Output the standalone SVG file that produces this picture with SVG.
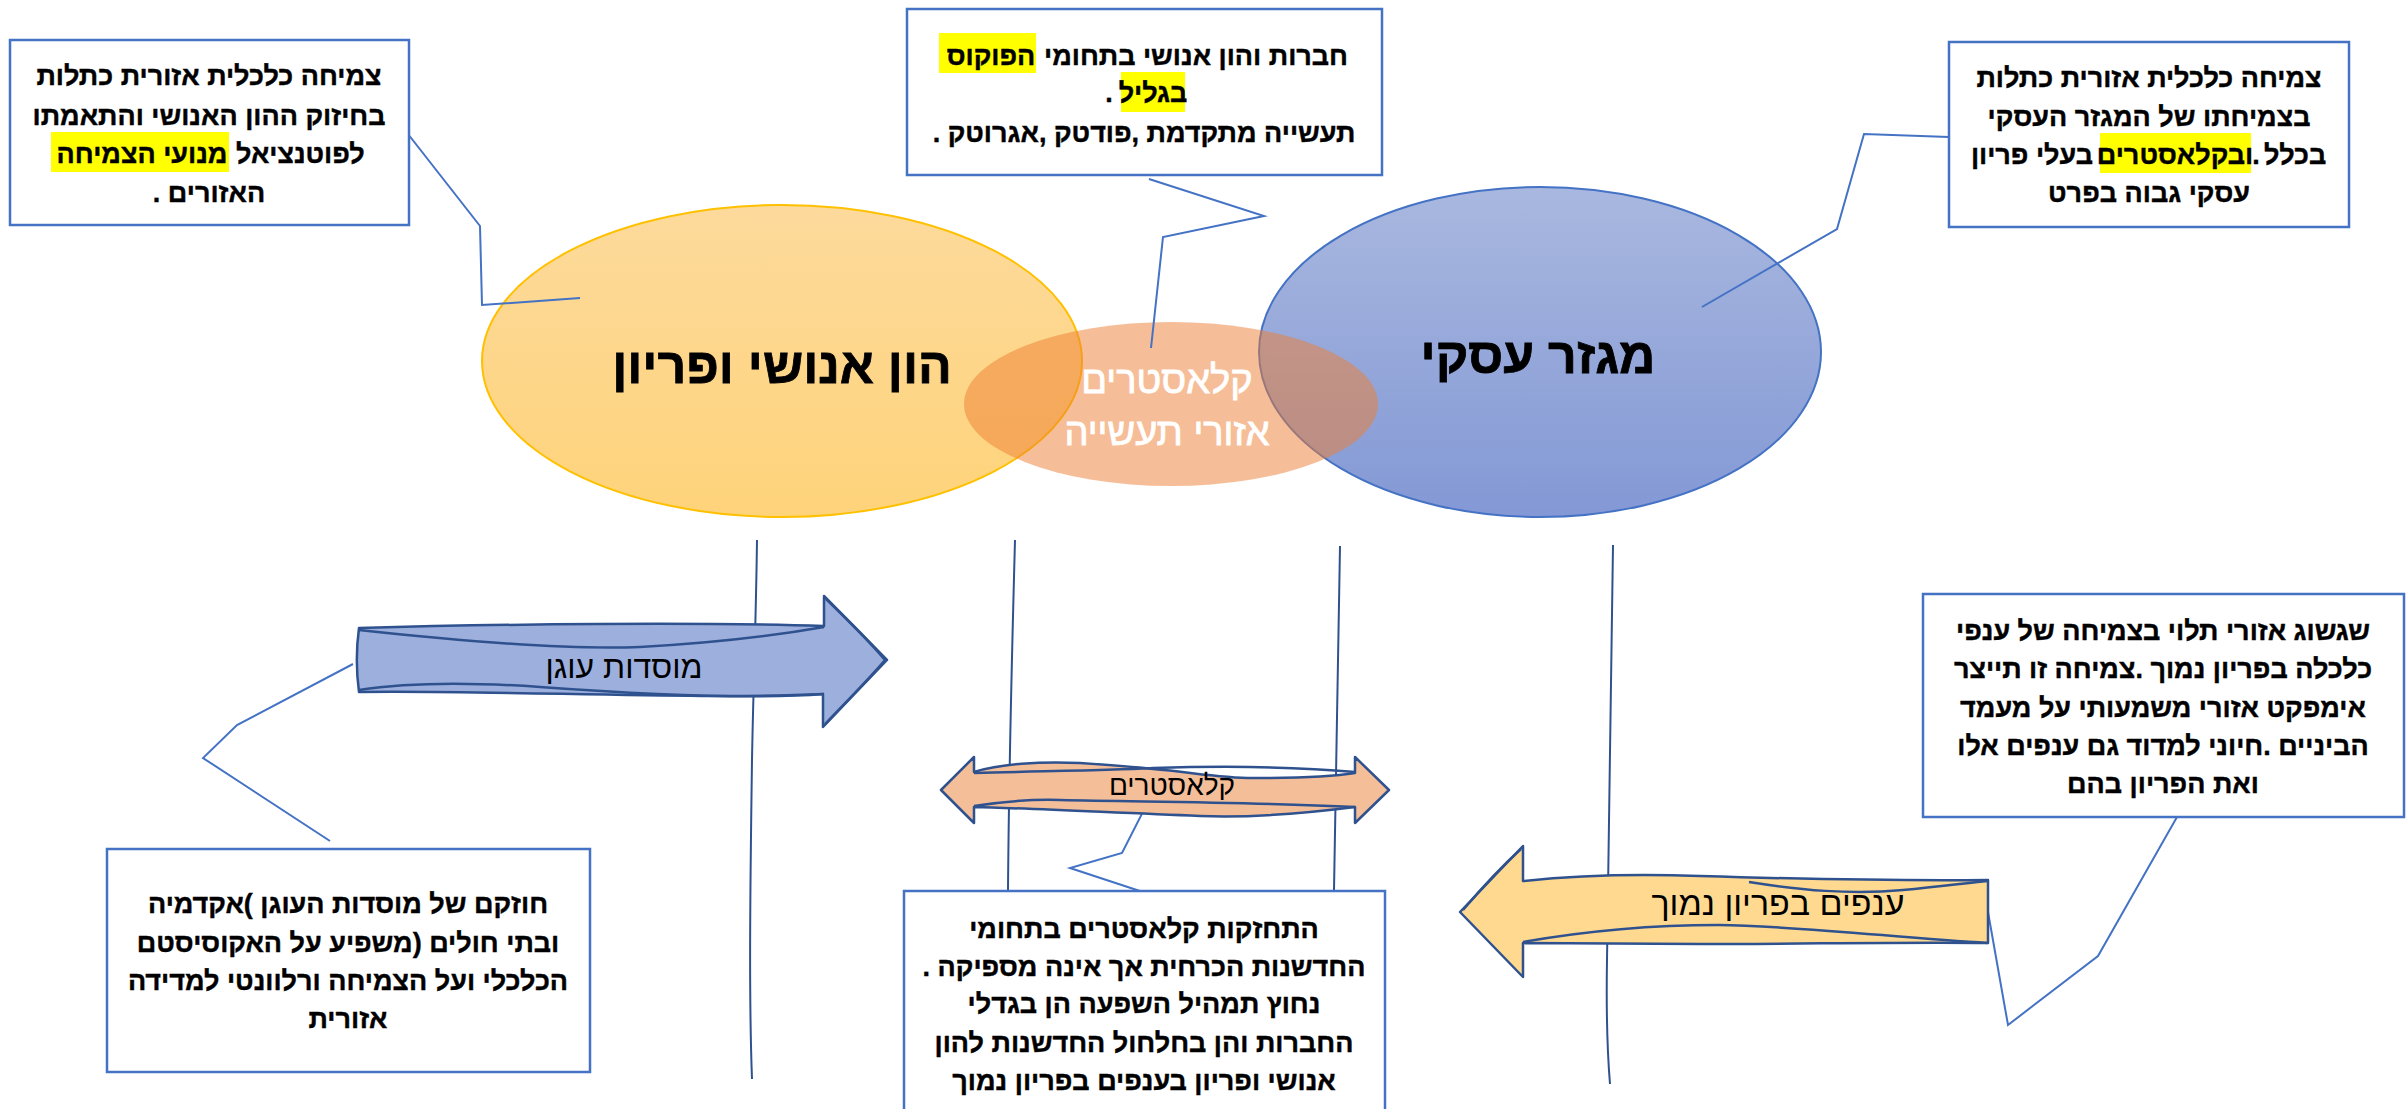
<svg xmlns="http://www.w3.org/2000/svg" width="2407" height="1109" viewBox="0 0 2407 1109">
<style>
.box{fill:#fff;stroke:#4472C4;stroke-width:2.5}
.call{fill:none;stroke:#4472C4;stroke-width:2}
.vline{fill:none;stroke:#2F528F;stroke-width:2}
.sk{fill:none;stroke:#2F528F;stroke-width:2.5;stroke-linejoin:round}
.hl{fill:#FFFF00}
.t{font-family:"Liberation Sans","DejaVu Sans",Arial,sans-serif;font-weight:bold;font-size:27px;fill:#000;stroke:#000;stroke-width:0.4;direction:rtl;text-anchor:middle}
.rs{text-anchor:start}
.le{text-anchor:end}
.big{font-family:"Liberation Sans","DejaVu Sans",Arial,sans-serif;font-weight:bold;font-size:50px;fill:#000;stroke:#000;stroke-width:0.8;direction:rtl;text-anchor:middle}
.mid{font-family:"Liberation Sans","DejaVu Sans",Arial,sans-serif;font-size:38px;fill:#fff;stroke:#fff;stroke-width:0.8;direction:rtl;text-anchor:middle}
.arr{font-family:"Liberation Sans","DejaVu Sans",Arial,sans-serif;font-size:32px;fill:#000;direction:rtl;text-anchor:middle}
</style>
<defs>
<linearGradient id="gy" x1="0" y1="0" x2="0" y2="1"><stop offset="0" stop-color="#FDDA9C"/><stop offset="1" stop-color="#FED37A"/></linearGradient>
<linearGradient id="gb" x1="0" y1="0" x2="0" y2="1"><stop offset="0" stop-color="#A9B8DF"/><stop offset="1" stop-color="#8398D5"/></linearGradient>
</defs>
<rect width="2407" height="1109" fill="#fff"/>

<g id="node-human-capital">
<ellipse cx="782" cy="361" rx="300" ry="156" fill="url(#gy)" stroke="#FFC000" stroke-width="2"/>
<text class="big" x="782" y="383">הון אנושי ופריון</text>
</g>
<g id="node-business-sector">
<ellipse cx="1540" cy="352" rx="281" ry="165" fill="url(#gb)" stroke="#4472C4" stroke-width="2"/>
<text class="big" x="1538" y="373">מגזר עסקי</text>
</g>
<g id="node-clusters">
<ellipse cx="1171" cy="404" rx="207" ry="82" fill="#ED7D31" fill-opacity="0.5"/>
<text class="mid" x="1167" y="393">קלאסטרים</text>
<text class="mid" x="1167" y="445">אזורי תעשייה</text>
</g>

<g id="connectors">
<path class="vline" d="M757,540 C756,620 753,700 752,760 C750,900 749,1000 752,1079"/>
<path class="vline" d="M1015,540 C1012,650 1009,760 1008,890"/>
<path class="vline" d="M1340,546 C1338,650 1336,760 1334,890"/>
<path class="vline" d="M1613,545 C1610,700 1608,850 1607,960 C1606,1020 1608,1060 1610,1084"/>
<path class="call" d="M408,134 L480,226 L482,305 L580,298"/>
<path class="call" d="M1149,179 L1264,216 L1163,237 L1151,348"/>
<path class="call" d="M1949,137 L1864,134 L1837,229 L1702,307"/>
<path class="call" d="M353,664 L237,725 L203,758 L330,841"/>
<path class="call" d="M1151,796 L1122,853 L1070,868 L1152,895"/>
<path class="call" d="M2177,817 L2098,956 L2008,1025 L1988,912"/>
</g>

<g id="node-anchor-arrow">
<path d="M359,628 C500,624 700,622 824,626 L824,596 L887,660 L823,727 L823,694 C700,700 500,690 359,692 C356,670 356,650 359,628 Z" fill="#9DAFDD" stroke="#2F528F" stroke-width="2.5" stroke-linejoin="round"/>
<path class="sk" d="M359,630 C450,640 560,650 640,647 C730,642 790,633 824,627"/>
<path class="sk" d="M359,690 C410,682 470,682 540,687 C650,695 760,699 824,694"/>
<path class="sk" d="M826,599 C850,622 870,642 885,660 C868,680 845,703 825,724"/>
<text class="arr" x="624" y="678">מוסדות עוגן</text>
</g>

<g id="node-cluster-arrow">
<path d="M941,790 L974,757 L974,772 C1000,764 1040,761 1080,763 C1110,765 1135,767 1153,769 C1190,772 1220,778 1253,778 C1300,778 1330,777 1355,773 L1355,757 L1389,790 L1355,823 L1355,807 C1300,814 1250,818 1200,816 C1100,812 1020,808 974,807 L974,823 Z" fill="#F4BE99" stroke="#2F528F" stroke-width="2.5" stroke-linejoin="round"/>
<path class="sk" d="M974,773 C1050,771 1120,770 1153,768 C1220,766 1300,767 1355,772"/>
<path class="sk" d="M974,806 C1000,802 1030,799 1060,800 C1150,802 1250,802 1355,807"/>
<text class="arr" style="font-size:28px" x="1172" y="795">קלאסטרים</text>
</g>

<g id="node-lowprod-arrow">
<path d="M1460,912 L1523,846 L1523,881 C1570,876 1620,873 1700,876 C1800,879 1900,881 1988,880 L1988,943 C1900,942 1800,944 1700,944 C1620,944 1570,943 1523,943 L1523,977 Z" fill="#FFD990" stroke="#2F528F" stroke-width="2.5" stroke-linejoin="round"/>
<path class="sk" d="M1749,882 C1800,890 1850,895 1903,890 C1940,887 1965,883 1988,881"/>
<path class="sk" d="M1523,942 C1580,932 1650,925 1718,925 C1800,926 1900,938 1988,943"/>
<path class="sk" d="M1463,910 C1480,890 1500,868 1521,849"/>
<text class="arr" style="font-size:34px" x="1778" y="915">ענפים בפריון נמוך</text>
</g>

<g id="node-box-topleft">
<rect class="box" x="10" y="40" width="399" height="185"/>
<rect class="hl" x="51" y="132" width="178" height="40"/>
<text class="t" x="209" y="85">צמיחה כלכלית אזורית כתלות</text>
<text class="t" x="209" y="125">בחיזוק ההון האנושי והתאמתו</text>
<text class="t le" x="236" y="163">לפוטנציאל</text>
<text class="t" x="142" y="163">מנועי הצמיחה</text>
<text class="t" x="209" y="202">האזורים .</text>
</g>

<g id="node-box-topcenter">
<rect class="box" x="907" y="9" width="475" height="166"/>
<rect class="hl" x="939" y="33" width="97" height="40"/>
<rect class="hl" x="1121" y="72" width="64" height="40"/>
<text class="t le" x="1044" y="65">חברות והון אנושי בתחומי</text>
<text class="t" x="991" y="65">הפוקוס</text>
<text class="t" x="1153" y="102">בגליל</text>
<text class="t" x="1109" y="102">.</text>
<text class="t" x="1144" y="142">תעשייה מתקדמת ,פודטק ,אגרוטק .</text>
</g>

<g id="node-box-topright">
<rect class="box" x="1949" y="42" width="400" height="185"/>
<rect class="hl" x="2100" y="133" width="151" height="40"/>
<text class="t" x="2149" y="87">צמיחה כלכלית אזורית כתלות</text>
<text class="t" x="2149" y="126">בצמיחתו של המגזר העסקי</text>
<text class="t le" x="2264" y="164">בכלל</text>
<text class="t" x="2256" y="164">.</text>
<text class="t" x="2175" y="164">ובקלאסטרים</text>
<text class="t rs" x="2093" y="164">בעלי פריון</text>
<text class="t" x="2149" y="202">עסקי גבוה בפרט</text>
</g>

<g id="node-box-bottomleft">
<rect class="box" x="107" y="849" width="483" height="223"/>
<text class="t" x="348" y="913">חוזקם של מוסדות העוגן )אקדמיה</text>
<text class="t" x="348" y="952">ובתי חולים (משפיע על האקוסיסטם</text>
<text class="t" x="348" y="990">הכלכלי ועל הצמיחה ורלוונטי למדידה</text>
<text class="t" x="348" y="1028">אזורית</text>
</g>

<g id="node-box-bottomcenter">
<rect class="box" x="904" y="891" width="481" height="225"/>
<text class="t" x="1144" y="938">התחזקות קלאסטרים בתחומי</text>
<text class="t" x="1144" y="976">החדשנות הכרחית אך אינה מספיקה .</text>
<text class="t" x="1144" y="1013">נחוץ תמהיל השפעה הן בגדלי</text>
<text class="t" x="1144" y="1052">החברות והן בחלחול החדשנות להון</text>
<text class="t" x="1144" y="1090">אנושי ופריון בענפים בפריון נמוך</text>
</g>

<g id="node-box-right">
<rect class="box" x="1923" y="594" width="481" height="223"/>
<text class="t" x="2163" y="640">שגשוג אזורי תלוי בצמיחה של ענפי</text>
<text class="t" x="2163" y="678">כלכלה בפריון נמוך .צמיחה זו תייצר</text>
<text class="t" x="2163" y="717">אימפקט אזורי משמעותי על מעמד</text>
<text class="t" x="2163" y="755">הביניים .חיוני למדוד גם ענפים אלו</text>
<text class="t" x="2163" y="793">ואת הפריון בהם</text>
</g>
</svg>
